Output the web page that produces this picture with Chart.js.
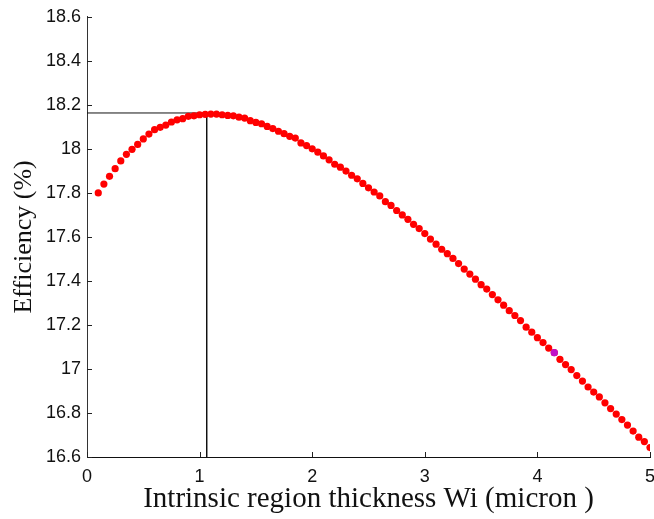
<!DOCTYPE html>
<html>
<head>
<meta charset="utf-8">
<script src="https://cdn.jsdelivr.net/npm/chart.js@4"></script>
<style>
  html, body { margin: 0; padding: 0; background: #fff; }
  #chart { display: block; }
</style>
</head>
<body>
<canvas id="chart" width="654" height="519"></canvas>
<script>
// thickness (micron)
var wi = [0.10, 0.15, 0.20, 0.25, 0.30, 0.35, 0.40, 0.45, 0.50, 0.55,
  0.60, 0.65, 0.70, 0.75, 0.80, 0.85, 0.90, 0.95, 1.00, 1.05,
  1.10, 1.15, 1.20, 1.25, 1.30, 1.35, 1.40, 1.45, 1.50, 1.55,
  1.60, 1.65, 1.70, 1.75, 1.80, 1.85, 1.90, 1.95, 2.00, 2.05,
  2.10, 2.15, 2.20, 2.25, 2.30, 2.35, 2.40, 2.45, 2.50, 2.55,
  2.60, 2.65, 2.70, 2.75, 2.80, 2.85, 2.90, 2.95, 3.00, 3.05,
  3.10, 3.15, 3.20, 3.25, 3.30, 3.35, 3.40, 3.45, 3.50, 3.55,
  3.60, 3.65, 3.70, 3.75, 3.80, 3.85, 3.90, 3.95, 4.00, 4.05,
  4.10, 4.15, 4.20, 4.25, 4.30, 4.35, 4.40, 4.45, 4.50, 4.55,
  4.60, 4.65, 4.70, 4.75, 4.80, 4.85, 4.90, 4.95, 5.00];

// efficiency (%)
var eff = [17.800, 17.840, 17.875, 17.910, 17.945, 17.975, 17.998, 18.020, 18.045, 18.067,
  18.087, 18.098, 18.108, 18.122, 18.132, 18.137, 18.148, 18.150, 18.155, 18.157,
  18.158, 18.158, 18.155, 18.152, 18.150, 18.144, 18.140, 18.128, 18.120, 18.114,
  18.102, 18.092, 18.080, 18.069, 18.057, 18.049, 18.027, 18.015, 18.000, 17.985,
  17.968, 17.950, 17.930, 17.917, 17.899, 17.880, 17.864, 17.843, 17.823, 17.804,
  17.786, 17.760, 17.743, 17.720, 17.700, 17.680, 17.657, 17.638, 17.615, 17.590,
  17.567, 17.544, 17.524, 17.502, 17.479, 17.454, 17.431, 17.408, 17.383, 17.363,
  17.338, 17.314, 17.290, 17.265, 17.243, 17.220, 17.190, 17.167, 17.142, 17.120,
  17.095, 17.074, 17.044, 17.020, 16.997, 16.970, 16.945, 16.918, 16.895, 16.873,
  16.846, 16.820, 16.795, 16.770, 16.745, 16.718, 16.690, 16.670, 16.643];

// highlighted point
var markX = [4.15];
var markY = [17.074];

// optimum guide lines
var optX = [0, 1.063, 1.063];
var optY = [18.163, 18.163, 16.6];

var xTickLabels = ['0', '1', '2', '3', '4', '5'];
var yTickLabels = ['16.6', '16.8', '17', '17.2', '17.4', '17.6', '17.8', '18', '18.2', '18.4', '18.6'];

function toPoints(xs, ys) {
  var pts = [];
  for (var i = 0; i < xs.length; i++) {
    pts.push({ x: xs[i], y: ys[i] });
  }
  return pts;
}

// little ticks pointing into the plot, like the original
var innerTicks = {
  id: 'innerTicks',
  afterDraw: function (chart) {
    var ctx = chart.ctx;
    var xs = chart.scales.x, ys = chart.scales.y;
    var area = chart.chartArea;
    ctx.save();
    ctx.strokeStyle = '#222';
    ctx.lineWidth = 1;
    ctx.beginPath();
    xs.ticks.forEach(function (t) {
      var px = Math.round(xs.getPixelForValue(t.value)) + 0.5;
      ctx.moveTo(px, area.bottom);
      ctx.lineTo(px, area.bottom - 5);
    });
    ys.ticks.forEach(function (t) {
      var py = Math.round(ys.getPixelForValue(t.value)) + 0.5;
      ctx.moveTo(area.left, py);
      ctx.lineTo(area.left + 5, py);
    });
    ctx.stroke();
    ctx.restore();
  }
};

var context = document.querySelector('#chart').getContext('2d');
new Chart(context, {
  type: 'scatter',
  data: {
    datasets: [{
      type: 'line',
      data: toPoints(optX, optY),
      borderColor: '#111',
      borderWidth: 1,
      pointRadius: 0,
      fill: false,
      order: 3
    }, {
      data: toPoints(wi, eff),
      backgroundColor: '#ff0000',
      borderWidth: 0,
      pointRadius: 3.6,
      order: 2
    }, {
      data: toPoints(markX, markY),
      backgroundColor: '#c010c8',
      borderWidth: 0,
      pointRadius: 3.6,
      order: 1
    }]
  },
  options: {
    responsive: false,
    animation: false,
    layout: { padding: { left: 0, right: 4, top: 6, bottom: 0 } },
    plugins: {
      legend: { display: false },
      tooltip: { enabled: false }
    },
    scales: {
      x: {
        type: 'linear',
        min: 0,
        max: 5,
        grid: { display: false, drawTicks: false },
        border: { display: true, color: '#111', width: 1 },
        ticks: {
          stepSize: 1,
          padding: 9,
          color: '#111',
          font: { family: 'Liberation Sans', size: 18 },
          callback: function (v, i) { return xTickLabels[i]; }
        },
        title: {
          display: true,
          text: 'Intrinsic region thickness Wi (micron )',
          color: '#111',
          font: { family: 'Liberation Serif', size: 29 },
          padding: { top: 0, bottom: 2 }
        },
        afterFit: function (scale) {
          scale.height = 62;
          scale.paddingLeft = 0;
          scale.paddingRight = 0;
        }
      },
      y: {
        type: 'linear',
        min: 16.6,
        max: 18.6,
        grid: { display: false, drawTicks: false },
        border: { display: true, color: '#333', width: 1 },
        ticks: {
          stepSize: 0.2,
          padding: 6,
          color: '#111',
          font: { family: 'Liberation Sans', size: 18 },
          callback: function (v, i) { return yTickLabels[i]; }
        },
        title: {
          display: true,
          text: 'Efficiency (%)',
          color: '#111',
          font: { family: 'Liberation Serif', size: 26 },
          padding: { top: 9, bottom: 0 }
        },
        afterFit: function (scale) { scale.width = 87; }
      }
    }
  },
  plugins: [innerTicks]
});
</script>
</body>
</html>
